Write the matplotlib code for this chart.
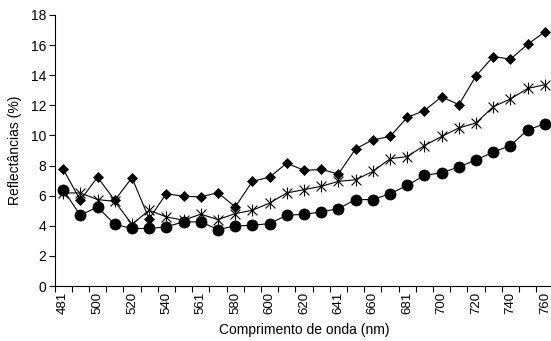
import matplotlib
matplotlib.use("Agg")
import matplotlib.pyplot as plt
from matplotlib.path import Path
import numpy as np

wavelengths = [481, 490, 500, 510, 520, 530, 540, 550, 561, 570, 580, 590, 600, 610,
               620, 630, 641, 650, 660, 670, 681, 690, 700, 710, 720, 730, 740, 750, 760]

serie_losango = [7.78, 5.69, 7.23, 5.69, 7.19, 4.46, 6.13, 5.96, 5.92, 6.20, 5.25, 6.95, 7.23, 8.16,
                 7.68, 7.74, 7.44, 9.11, 9.71, 9.93, 11.2, 11.65, 12.57, 12.04, 13.96, 15.24, 15.07, 16.06, 16.88]
serie_estrela = [6.18, 6.18, 5.74, 5.62, 4.10, 5.03, 4.59, 4.37, 4.77, 4.41, 4.81, 5.03, 5.51, 6.18,
                 6.40, 6.62, 6.95, 7.06, 7.61, 8.45, 8.60, 9.33, 9.93, 10.50, 10.83, 11.91, 12.42, 13.12, 13.37]
serie_circulo = [6.40, 4.70, 5.25, 4.10, 3.82, 3.82, 3.93, 4.26, 4.26, 3.75, 3.99, 4.03, 4.15, 4.70,
                 4.76, 4.92, 5.14, 5.74, 5.74, 6.13, 6.68, 7.35, 7.52, 7.90, 8.38, 8.89, 9.33, 10.37, 10.77]

yticks = [0, 2, 4, 6, 8, 10, 12, 14, 16, 18]

plt.rcParams['font.family'] = ['Liberation Sans', 'DejaVu Sans']

fig = plt.figure(figsize=(5.51, 3.41), dpi=100)
ax = fig.add_axes([54.5 / 551, 55 / 341, 499 / 551, 271 / 341])

x = np.arange(len(wavelengths))

star = Path([(-1, -1), (1, 1), (-1, 1), (1, -1), (0, -1.2), (0, 1.2)],
            [Path.MOVETO, Path.LINETO, Path.MOVETO, Path.LINETO, Path.MOVETO, Path.LINETO])

ax.plot(x, serie_losango, color='black', lw=0.8, marker='D', ms=5.0,
        mfc='black', mec='black', mew=0.5)
ax.plot(x, serie_estrela, color='black', lw=0.8, marker=star, ms=8.5,
        mfc='none', mec='black', mew=0.8)
ax.plot(x, serie_circulo, color='black', lw=0.8, marker='o', ms=8.0,
        mfc='black', mec='black', mew=0.5)

ax.set_xlim(-0.5, len(wavelengths) - 0.5)
ax.set_ylim(0, 18)
ax.set_yticks(yticks)
ax.set_yticklabels([str(v) for v in yticks], fontsize=10)

ax.set_xticks(np.arange(-0.5, len(wavelengths) + 0.5, 1.0))
ax.set_xticklabels([])
ax.set_xticks(x[::2], minor=True)
ax.set_xticklabels([str(w) for w in wavelengths[::2]], minor=True, rotation=90, fontsize=9.5)
ax.tick_params(axis='x', which='minor', length=0, pad=4.5)
ax.tick_params(axis='x', which='major', length=4, width=0.8, direction='out')
ax.tick_params(axis='y', length=4, width=0.8, direction='out', pad=2)

for s in ['top', 'right']:
    ax.spines[s].set_visible(False)
for s in ['left', 'bottom']:
    ax.spines[s].set_linewidth(0.8)

ax.set_ylabel('Reflectâncias (%)', fontsize=10, labelpad=6)
ax.set_xlabel('Comprimento de onda (nm)', fontsize=10, labelpad=6)

fig.savefig('out.png', dpi=100)
